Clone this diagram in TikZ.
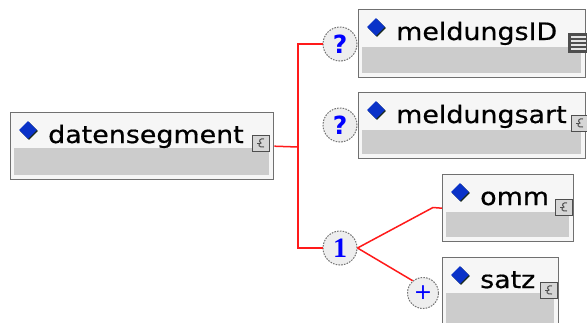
\documentclass[tikz,border=0pt]{standalone}
\usepackage{fontspec}
\usetikzlibrary{shapes.geometric,calc}
\newfontfamily\boxfont[FakeStretch=1.12,FakeBold=0.6]{DejaVu Sans}
\newfontfamily\qfont{DejaVu Sans}
\newfontfamily\onefont{Liberation Serif}
\definecolor{boxborder}{HTML}{707070}
\definecolor{boxtop}{HTML}{F6F6F6}
\definecolor{boxband}{HTML}{CCCCCC}
\definecolor{diamblue}{HTML}{0A32C8}
\definecolor{diamshadow}{HTML}{1A2A1A}
\definecolor{circfill}{HTML}{EEEEEE}
\definecolor{wirered}{HTML}{FF1A1A}
\definecolor{iconfill}{HTML}{D6D6D6}
\definecolor{icondark}{HTML}{4E4E4E}
\tikzset{
  elbox/.style={draw=boxborder, fill=boxtop, line width=1.4pt, rectangle, inner sep=0pt},
  band/.style={fill=boxband},
  diam/.style={diamond, fill=diamblue, inner sep=0pt, minimum width=18pt, minimum height=18pt},
  diamsh/.style={diamond, fill=diamshadow, inner sep=0pt, minimum width=18pt, minimum height=18pt},
  lbl/.style={font=\boxfont\fontsize{24}{28}\selectfont, text=black, inner sep=0pt},
  card/.style={circle, draw=gray!90!black, dash pattern=on 1.6pt off 1.2pt, line width=1pt, fill=circfill, minimum size=34pt, inner sep=0pt, text=blue},
  wire/.style={draw=wirered, line width=1.5pt},
  icn/.style={draw=icondark, fill=iconfill, line width=1pt},
  icg/.style={draw=icondark, line width=1pt},
}
\newcommand\xmlbox[7]{%
  \node[elbox, anchor=north west, minimum width=#4-#2, minimum height=#5-#3] (#1) at (#2,#3) {};
  \fill[band] (#2+4,#6) rectangle (#4-4,#5-4);
  \node[diamsh] (#1-s) at (#2+19,#3+19) {};
  \node[diam] (#1-d) at (#2+18,#3+18) {};
  \node[lbl, anchor=base west] (#1-t) at (#2+38,#3+31) {#7};
}
\newcommand\cicon[2]{%
  \draw[icn] (#1,#2) rectangle (#1+17,#2+16);
  \draw[icg] (#1+12,#2+4) .. controls (#1+8,#2+3) and (#1+6,#2+6) .. (#1+9,#2+8)
    .. controls (#1+5,#2+9) and (#1+7,#2+13) .. (#1+12,#2+12);
  \draw[icg] (#1+5,#2+8) -- (#1+8,#2+8);
}
\begin{document}
\begin{tikzpicture}[x=1pt,y=-1pt]
\useasboundingbox (0,0) rectangle (587,322);
\clip (0,0) rectangle (587,322);
\fill[white] (0,0) rectangle (587,322);

% element boxes
\xmlbox{datensegment}{10}{112}{273}{179}{148}{datensegment}
\xmlbox{meldungsID}{358}{9}{585}{77}{47}{meldungsID}
\xmlbox{meldungsart}{358}{92}{585}{158}{130}{meldungsart}
\xmlbox{omm}{442}{174}{573}{241}{212}{omm}
\xmlbox{satz}{442}{257}{558}{335}{293}{satz}

% content icons
\cicon{252}{135}
\cicon{571}{115}
\cicon{555}{199}
\cicon{540}{282}
% simple type icon
\fill[icondark] (568,33) rectangle (589,53);
\foreach \yy in {37,41,45,49} {\draw[white!80!gray, line width=1.2pt] (571,\yy) -- (586,\yy);}

% cardinality circles
\node[card, font=\qfont\bfseries\fontsize{25}{27}\selectfont] (q1) at (340,44) {?};
\node[card, font=\qfont\bfseries\fontsize{25}{27}\selectfont] (q2) at (340,125) {?};
\node[card, font=\onefont\bfseries\fontsize{28}{30}\selectfont] (c1) at (340,248) {1};
\node[card, minimum size=31pt, font=\qfont\fontsize{22}{24}\selectfont] (plus) at (423,293) {+};

% connectors
\coordinate (j) at (298,147);
\coordinate (ob) at (433,207.5);
\draw[wire] (datensegment.east) -- (j);
\draw[wire] (q1.west) -| (j) |- (c1.west);
\draw[wire] (c1.east) -- (ob) -- (omm.west);
\draw[wire] (c1.east) -- (plus.130);
\end{tikzpicture}
\end{document}
